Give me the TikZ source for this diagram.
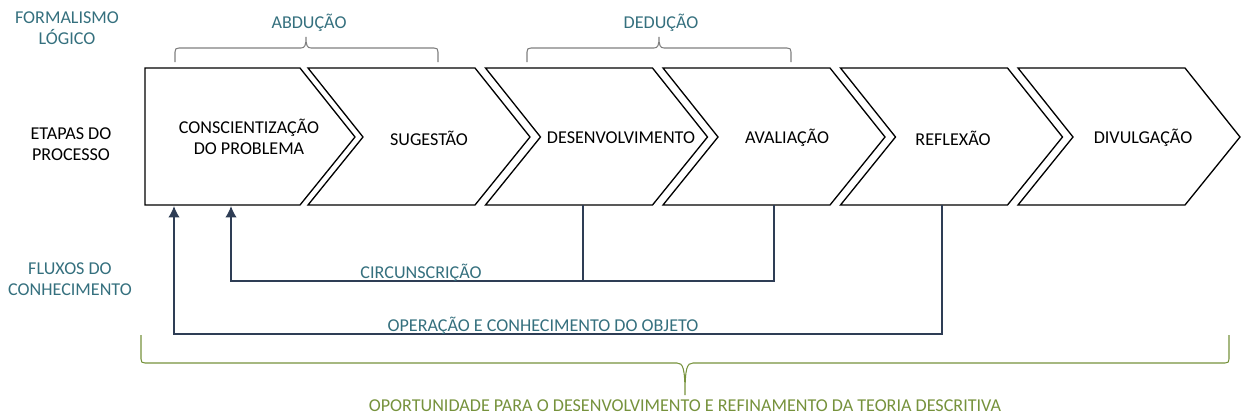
\documentclass[tikz,border=0pt]{standalone}
\usepackage{fontspec}
\setmainfont{Carlito}
\usetikzlibrary{arrows.meta}
\definecolor{tealtext}{HTML}{35707E}
\definecolor{olivetext}{HTML}{76923C}
\definecolor{flownavy}{HTML}{2E3D55}
\definecolor{bracegray}{HTML}{7F7F7F}

\begin{document}
\begin{tikzpicture}[x=0.02cm,y=-0.02cm,
  every node/.style={font=\fontsize{10.3}{12.3}\selectfont,align=center,inner sep=0pt},
  lbl/.style={text=tealtext},
  chev/.style={draw=black,line width=0.75pt,line join=miter},
  bracegr/.style={draw=bracegray,line width=0.6pt},
  flow/.style={draw=flownavy,line width=0.8pt,-{Latex[length=6.5pt,width=6.5pt]}},
  flowline/.style={draw=flownavy,line width=0.8pt}]
  \useasboundingbox (0,0) rectangle (1241,416);
  % chevrons of the process
  \draw[chev] (145,68) -- (300,68) -- (355,137) -- (300,205) -- (145,205) -- cycle;
  \foreach \a in {308,485.5,663,840.5,1018}
    \draw[chev] (\a,68) -- (\a+167,68) -- (\a+222,137) -- (\a+167,205) -- (\a,205) -- (\a+55,137) -- cycle;
  \path (249,137) node (consc) {CONSCIENTIZAÇÃO\\DO PROBLEMA}
  (429,138) node (sug) {SUGESTÃO} (621,138) node (desenv) {DESENVOLVIMENTO}
  (787,138) node (aval) {AVALIAÇÃO} (953,138) node (refl) {REFLEXÃO}
  (1143,138) node (divulg) {DIVULGAÇÃO};
  % row titles
  \path (67,28) node[lbl] (formal) {FORMALISMO\\LÓGICO}
  (71,144) node (etapas) {ETAPAS DO\\PROCESSO}
  (70,279) node[lbl] (fluxos) {FLUXOS DO\\CONHECIMENTO};
  % braces
  \path (309,23) node[lbl] (abd) {ABDUÇÃO} (661,23) node[lbl] (ded) {DEDUÇÃO};
  \draw[bracegr] (175,62) -- (175,52) .. controls (175,49) and (176,48) .. (179,48) -- (301,48)
    .. controls (305,48) and (306,45) .. (306,37) .. controls (306,45) and (307,48) .. (311,48)
    -- (434,48) .. controls (437,48) and (438,49) .. (438,52) -- (438,62);
  \draw[bracegr] (527,62) -- (527,52) .. controls (527,49) and (528,48) .. (531,48) -- (654,48)
    .. controls (658,48) and (659,45) .. (659,37) .. controls (659,45) and (660,48) .. (664,48)
    -- (787,48) .. controls (790,48) and (791,49) .. (791,52) -- (791,62);
  % knowledge flows
  \coordinate (desenv-out) at (583,205);
  \coordinate (aval-out) at (774,205);
  \coordinate (refl-out) at (942,205);
  \coordinate (consc-in1) at (174,206);
  \coordinate (consc-in2) at (231,206);
  \draw[flowline] (desenv-out) -- ++(0,76);
  \draw[flow] (aval-out) -- ++(0,76) -| (consc-in2);
  \draw[flow] (refl-out) -- ++(0,129) -| (consc-in1);
  \path (421,273) node[lbl] (circ) {CIRCUNSCRIÇÃO}
  (543,326) node[lbl] (oper) {OPERAÇÃO E CONHECIMENTO DO OBJETO};
  % bottom brace
  \draw[draw=olivetext,line width=0.6pt] (141,335) -- (141,359) .. controls (141,362) and (142,363) .. (145,363)
    -- (677,363) .. controls (683,363) and (685,368) .. (685,395) .. controls (685,368) and (687,363) .. (693,363)
    -- (1225,363) .. controls (1228,363) and (1229,362) .. (1229,359) -- (1229,335);
  \node[text=olivetext] (oport) at (685,406) {OPORTUNIDADE PARA O DESENVOLVIMENTO E REFINAMENTO DA TEORIA DESCRITIVA};
\end{tikzpicture}
\end{document}
